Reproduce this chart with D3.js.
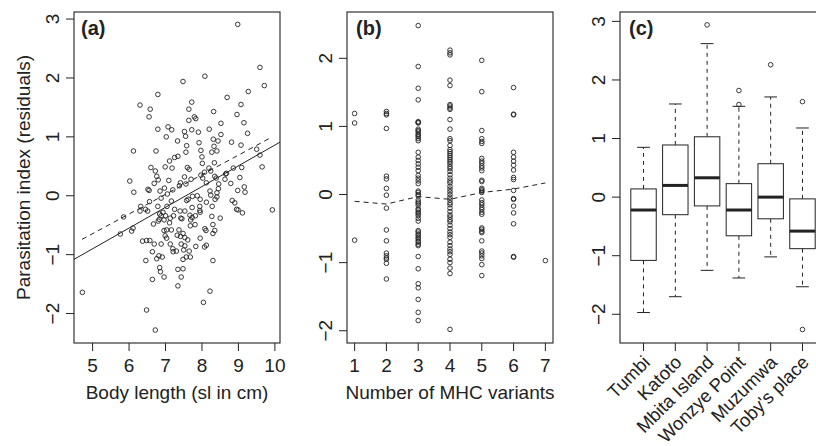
<!DOCTYPE html>
<html><head><meta charset="utf-8">
<script src="https://cdn.jsdelivr.net/npm/d3@7/dist/d3.min.js"></script>
<style>
html,body{margin:0;padding:0;background:#fff;}
svg{display:block;}
text{font-family:"Liberation Sans",Arial,Helvetica,sans-serif;fill:#222;}
</style></head>
<body><svg id="chart" width="816" height="446"></svg>
<script>
// ---------- Panel (a) data ----------
const bodyLength = [8.98,9.59,9.71,8.08,7.48,6.79,9.27,8.69,6.30,6.58,6.55,7.72,7.64,9.07,8.96,8.32,7.64,7.79,7.83,9.15,8.52,6.79,7.07,7.17,7.52,7.72,7.90,8.20,8.52,9.25,7.02,7.33,7.55,8.31,8.44,7.92,7.58,8.33,8.81,9.07,6.12,6.74,7.25,7.34,7.11,7.56,7.97,8.27,8.41,8.00,9.50,9.59,9.65,6.60,6.72,6.99,7.18,7.60,7.65,8.01,8.19,8.34,8.07,8.24,8.86,9.09,8.65,9.04,6.76,7.52,7.97,8.35,8.67,6.02,6.13,6.55,6.52,6.69,6.85,6.88,6.97,7.09,7.05,7.16,7.38,7.56,7.41,8.39,8.46,8.45,8.41,8.41,8.36,8.22,8.24,8.12,7.95,7.87,7.74,7.62,7.58,8.79,8.63,9.16,9.18,8.98,8.83,8.90,8.95,8.99,9.11,9.93,8.28,8.50,8.27,7.94,7.94,7.95,7.82,7.81,7.73,7.73,7.69,7.68,7.67,7.42,7.45,7.53,7.40,7.25,7.22,7.13,7.11,7.04,7.00,6.96,6.93,6.88,6.84,6.83,6.80,6.67,6.79,6.56,6.51,6.32,6.30,6.45,6.11,6.07,5.85,5.76,6.37,6.48,6.57,6.69,6.88,6.64,6.76,6.82,6.91,6.46,6.99,6.96,7.03,7.16,7.03,7.13,7.20,7.21,7.30,7.32,7.37,7.41,7.48,7.53,7.53,7.43,7.57,7.48,7.65,7.68,7.50,7.61,7.83,7.95,8.08,8.11,8.07,8.12,8.30,8.35,8.30,8.30,6.84,6.86,6.96,6.64,7.34,7.48,7.43,7.34,8.22,8.04,6.48,6.72,4.72,6.80,7.20,7.70,8.02,8.12];
const residA = [2.91,2.18,1.87,2.03,1.94,1.72,1.77,1.67,1.54,1.47,1.34,1.59,1.47,1.55,1.38,1.43,1.28,1.34,1.31,1.24,1.23,1.13,1.17,1.12,1.09,1.12,1.08,1.13,1.04,1.06,1.00,0.93,1.01,0.96,0.93,0.90,0.85,0.84,0.91,0.86,0.76,0.76,0.65,0.67,0.59,0.74,0.77,0.74,0.76,0.66,0.79,0.69,0.49,0.48,0.42,0.49,0.47,0.48,0.45,0.55,0.47,0.56,0.40,0.42,0.47,0.48,0.37,0.31,0.33,0.32,0.35,0.33,0.38,0.25,0.06,0.09,0.11,0.21,0.08,-0.04,0.13,0.26,0.03,-0.09,0.17,0.20,0.22,0.30,0.20,0.12,0.05,-0.02,-0.06,0.08,0.01,-0.11,-0.06,0.00,-0.01,-0.06,-0.08,0.21,0.28,0.15,0.06,0.09,-0.08,-0.12,-0.23,-0.24,-0.29,-0.24,-0.18,-0.38,-0.35,-0.18,-0.25,-0.28,-0.34,-0.49,-0.20,-0.37,-0.41,-0.51,-0.33,-0.38,-0.39,-0.26,-0.26,-0.23,-0.34,-0.38,-0.46,-0.18,-0.34,-0.41,-0.28,-0.34,-0.31,-0.40,-0.43,-0.48,-0.18,-0.10,-0.26,-0.18,-0.26,-0.23,-0.55,-0.60,-0.36,-0.65,-0.77,-0.76,-0.76,-0.82,-0.82,-0.95,-1.07,-1.02,-1.04,-1.10,-0.68,-0.59,-0.58,-0.58,-0.72,-0.82,-0.90,-0.95,-0.94,-0.67,-0.58,-0.69,-0.64,-0.71,-0.85,-0.82,-1.04,-1.08,-0.94,-1.04,-0.92,-0.75,-0.86,-0.72,-0.56,-0.59,-0.87,-0.84,-0.49,-0.59,-0.64,-1.10,-1.22,-1.29,-1.38,-1.42,-1.25,-1.24,-1.38,-1.53,-1.62,-1.81,-1.94,-2.28,-1.64,0.27,0.10,0.28,0.30,0.22];
const fitAllX = [4.49, 10.14], fitAllY = [-1.08, 0.91];       // solid line
const fitSubX = [4.71, 9.90],  fitSubY = [-0.74, 0.99];       // dashed line
const ticksAX = [5,6,7,8,9,10], ticksAY = [-2,-1,0,1,2,3];

// ---------- Panel (b) data ----------
const mhcLevels = [1,2,3,4,5,6,7];
const residByMhc = [
  [1.19,1.05,-0.67],
  [1.22,1.19,1.17,0.97,0.27,0.23,0.09,-0.01,-0.20,-0.52,-0.68,-0.86,-0.90,-0.93,-0.95,-1.01,-1.24],
  [2.48,1.88,1.56,1.39,1.07,1.06,1.05,0.96,0.94,0.92,0.89,0.87,0.85,0.82,0.79,0.62,0.55,0.50,0.45,0.40,0.35,0.28,0.24,0.20,0.16,0.05,0.03,0.00,-0.02,-0.08,-0.11,-0.13,-0.16,-0.21,-0.23,-0.26,-0.28,-0.31,-0.35,-0.39,-0.53,-0.55,-0.58,-0.60,-0.63,-0.65,-0.68,-0.70,-0.73,-0.75,-0.91,-1.09,-1.31,-1.37,-1.54,-1.73,-1.85],
  [2.12,2.08,2.05,1.68,1.60,1.32,1.30,1.27,1.25,1.10,0.96,0.82,0.79,0.72,0.66,0.63,0.60,0.57,0.54,0.51,0.48,0.45,0.41,0.38,0.34,0.29,0.24,0.20,0.17,0.12,0.08,0.04,0.00,-0.04,-0.08,-0.12,-0.15,-0.20,-0.25,-0.30,-0.33,-0.37,-0.40,-0.45,-0.50,-0.55,-0.59,-0.63,-0.70,-0.75,-0.80,-0.84,-0.88,-0.95,-1.00,-1.08,-1.16,-1.98],
  [1.97,1.51,0.94,0.82,0.78,0.75,0.53,0.49,0.46,0.42,0.39,0.35,0.21,0.19,0.09,0.07,0.05,0.03,-0.08,-0.12,-0.15,-0.19,-0.22,-0.26,-0.29,-0.49,-0.51,-0.54,-0.56,-0.68,-0.83,-0.86,-0.90,-0.94,-1.03,-1.19],
  [1.57,1.18,1.17,0.62,0.55,0.49,0.43,0.36,0.25,0.22,0.06,-0.06,-0.07,-0.17,-0.27,-0.43,-0.91,-0.92],
  [-0.97]
];
const trendB = [-0.10,-0.14,-0.03,-0.07,0.03,0.08,0.17];
const ticksBY = [-2,-1,0,1,2];

// ---------- Panel (c) data ----------
const sites = ["Tumbi","Katoto","Mbita Island","Wonzye Point","Muzumwa","Toby's place"];
const whiskerLow  = [-1.97,-1.70,-1.25,-1.38,-1.02,-1.53];
const quart1      = [-1.08,-0.30,-0.15,-0.66,-0.37,-0.88];
const medians     = [-0.22, 0.20, 0.33,-0.22, 0.00,-0.58];
const quart3      = [ 0.14, 0.89, 1.03, 0.23, 0.57,-0.03];
const whiskerHigh = [ 0.85, 1.59, 2.62, 1.55, 1.71, 1.18];
const outliers    = [[],[],[2.94],[1.82,1.58],[2.26],[1.63,-2.26]];
const ticksCY = [-2,-1,0,1,2,3];

// ---------- drawing ----------
const svg = d3.select("#chart");
const INK = "#222";
const FS = 19;
const plotTop = 12, plotBottom = 343;
const fmt = v => (v < 0 ? "\u2212" + Math.abs(v) : String(v));

function frame(g, x0, x1){
  g.append("rect").attr("x", x0).attr("y", plotTop).attr("width", x1 - x0).attr("height", plotBottom - plotTop)
    .attr("fill","none").attr("stroke", INK).attr("stroke-width", 1.1);
}
function yAxis(g, y, ticks, x0){
  ticks.forEach(t => {
    g.append("line").attr("x1", x0 - 8).attr("x2", x0).attr("y1", y(t)).attr("y2", y(t))
      .attr("stroke", INK).attr("stroke-width", 1);
    g.append("text").attr("transform", `translate(${x0 - 15.5},${y(t)}) rotate(-90)`)
      .attr("text-anchor","middle").attr("font-size", FS).text(fmt(t));
  });
}
function xAxis(g, x, ticks, labels){
  ticks.forEach((t,i) => {
    g.append("line").attr("x1", x(t)).attr("x2", x(t)).attr("y1", plotBottom).attr("y2", plotBottom + 8)
      .attr("stroke", INK).attr("stroke-width", 1);
    if (labels) g.append("text").attr("x", x(t)).attr("y", 372).attr("text-anchor","middle")
      .attr("font-size", FS).text(labels[i]);
  });
}
function points(g, xs, ys, x, y){
  g.selectAll(null).data(xs.map((d,i)=>[d, ys[i]])).enter().append("circle")
    .attr("cx", d => x(d[0])).attr("cy", d => y(d[1])).attr("r", 2.3)
    .attr("fill","none").attr("stroke", INK).attr("stroke-width", 0.9);
}
function panelLabel(g, x, s){
  g.append("text").attr("x", x).attr("y", 35).attr("font-size", 20).attr("font-weight","bold").text(s);
}

// Panel (a)
{
  const g = svg.append("g");
  const x = d3.scaleLinear().domain([4.49, 10.14]).range([74, 280]);
  const y = d3.scaleLinear().domain([-2.5, 3.12]).range([plotBottom, plotTop]);
  points(g, bodyLength, residA, x, y);
  const line = d3.line().x(d => x(d[0])).y(d => y(d[1]));
  g.append("path").attr("d", line(fitAllX.map((d,i)=>[d, fitAllY[i]])))
    .attr("fill","none").attr("stroke", INK).attr("stroke-width", 1);
  g.append("path").attr("d", line(fitSubX.map((d,i)=>[d, fitSubY[i]])))
    .attr("fill","none").attr("stroke", INK).attr("stroke-width", 1).attr("stroke-dasharray","5,4");
  frame(g, 74, 280);
  yAxis(g, y, ticksAY, 74);
  xAxis(g, x, ticksAX, ticksAX.map(String));
  panelLabel(g, 81, "(a)");
  g.append("text").attr("x", 177).attr("y", 399).attr("text-anchor","middle").attr("font-size", FS)
    .text("Body length (sl in cm)");
  g.append("text").attr("transform", "translate(30,177.5) rotate(-90)").attr("text-anchor","middle")
    .attr("font-size", FS).text("Parasitation index (residuals)");
}

// Panel (b)
{
  const g = svg.append("g");
  const x = d3.scaleLinear().domain([0.76, 7.24]).range([347, 553]);
  const y = d3.scaleLinear().domain([-2.18, 2.68]).range([plotBottom, plotTop]);
  const xs = [], ys = [];
  residByMhc.forEach((arr, i) => arr.forEach(v => { xs.push(mhcLevels[i]); ys.push(v); }));
  points(g, xs, ys, x, y);
  const line = d3.line().x(d => x(d[0])).y(d => y(d[1]));
  g.append("path").attr("d", line(mhcLevels.map((d,i)=>[d, trendB[i]])))
    .attr("fill","none").attr("stroke", INK).attr("stroke-width", 1).attr("stroke-dasharray","5,4");
  frame(g, 347, 553);
  yAxis(g, y, ticksBY, 347);
  xAxis(g, x, mhcLevels, mhcLevels.map(String));
  panelLabel(g, 356, "(b)");
  g.append("text").attr("x", 450).attr("y", 399).attr("text-anchor","middle").attr("font-size", FS)
    .text("Number of MHC variants");
}

// Panel (c)
{
  const g = svg.append("g");
  const x = d3.scaleLinear().domain([0.26, 6.74]).range([620, 826]);
  const y = d3.scaleLinear().domain([-2.49, 3.16]).range([plotBottom, plotTop]);
  const idx = sites.map((s,i) => i + 1);
  const bw = x(0.8) - x(0), cw = x(0.4) - x(0);
  sites.forEach((s, i) => {
    const cx = x(i + 1);
    g.append("line").attr("x1", cx).attr("x2", cx).attr("y1", y(quart3[i])).attr("y2", y(whiskerHigh[i]))
      .attr("stroke", INK).attr("stroke-dasharray","4,4");
    g.append("line").attr("x1", cx).attr("x2", cx).attr("y1", y(quart1[i])).attr("y2", y(whiskerLow[i]))
      .attr("stroke", INK).attr("stroke-dasharray","4,4");
    [whiskerHigh[i], whiskerLow[i]].forEach(v => g.append("line")
      .attr("x1", cx - cw/2).attr("x2", cx + cw/2).attr("y1", y(v)).attr("y2", y(v)).attr("stroke", INK));
    g.append("rect").attr("x", cx - bw/2).attr("y", y(quart3[i])).attr("width", bw)
      .attr("height", y(quart1[i]) - y(quart3[i])).attr("fill","#fff").attr("stroke", INK).attr("stroke-width", 1);
    g.append("line").attr("x1", cx - bw/2).attr("x2", cx + bw/2).attr("y1", y(medians[i])).attr("y2", y(medians[i]))
      .attr("stroke", INK).attr("stroke-width", 3);
    outliers[i].forEach(v => g.append("circle").attr("cx", cx).attr("cy", y(v)).attr("r", 2.3)
      .attr("fill","none").attr("stroke", INK).attr("stroke-width", 0.9));
  });
  frame(g, 620, 826);
  yAxis(g, y, ticksCY, 620);
  xAxis(g, x, idx, null);
  sites.forEach((s, i) => {
    g.append("text").attr("transform", `translate(${x(i + 1) + 3},359) rotate(-45)`)
      .attr("text-anchor","end").attr("dy","0.35em").attr("font-size", 18.5).text(s);
  });
  panelLabel(g, 629, "(c)");
}
</script></body></html>
